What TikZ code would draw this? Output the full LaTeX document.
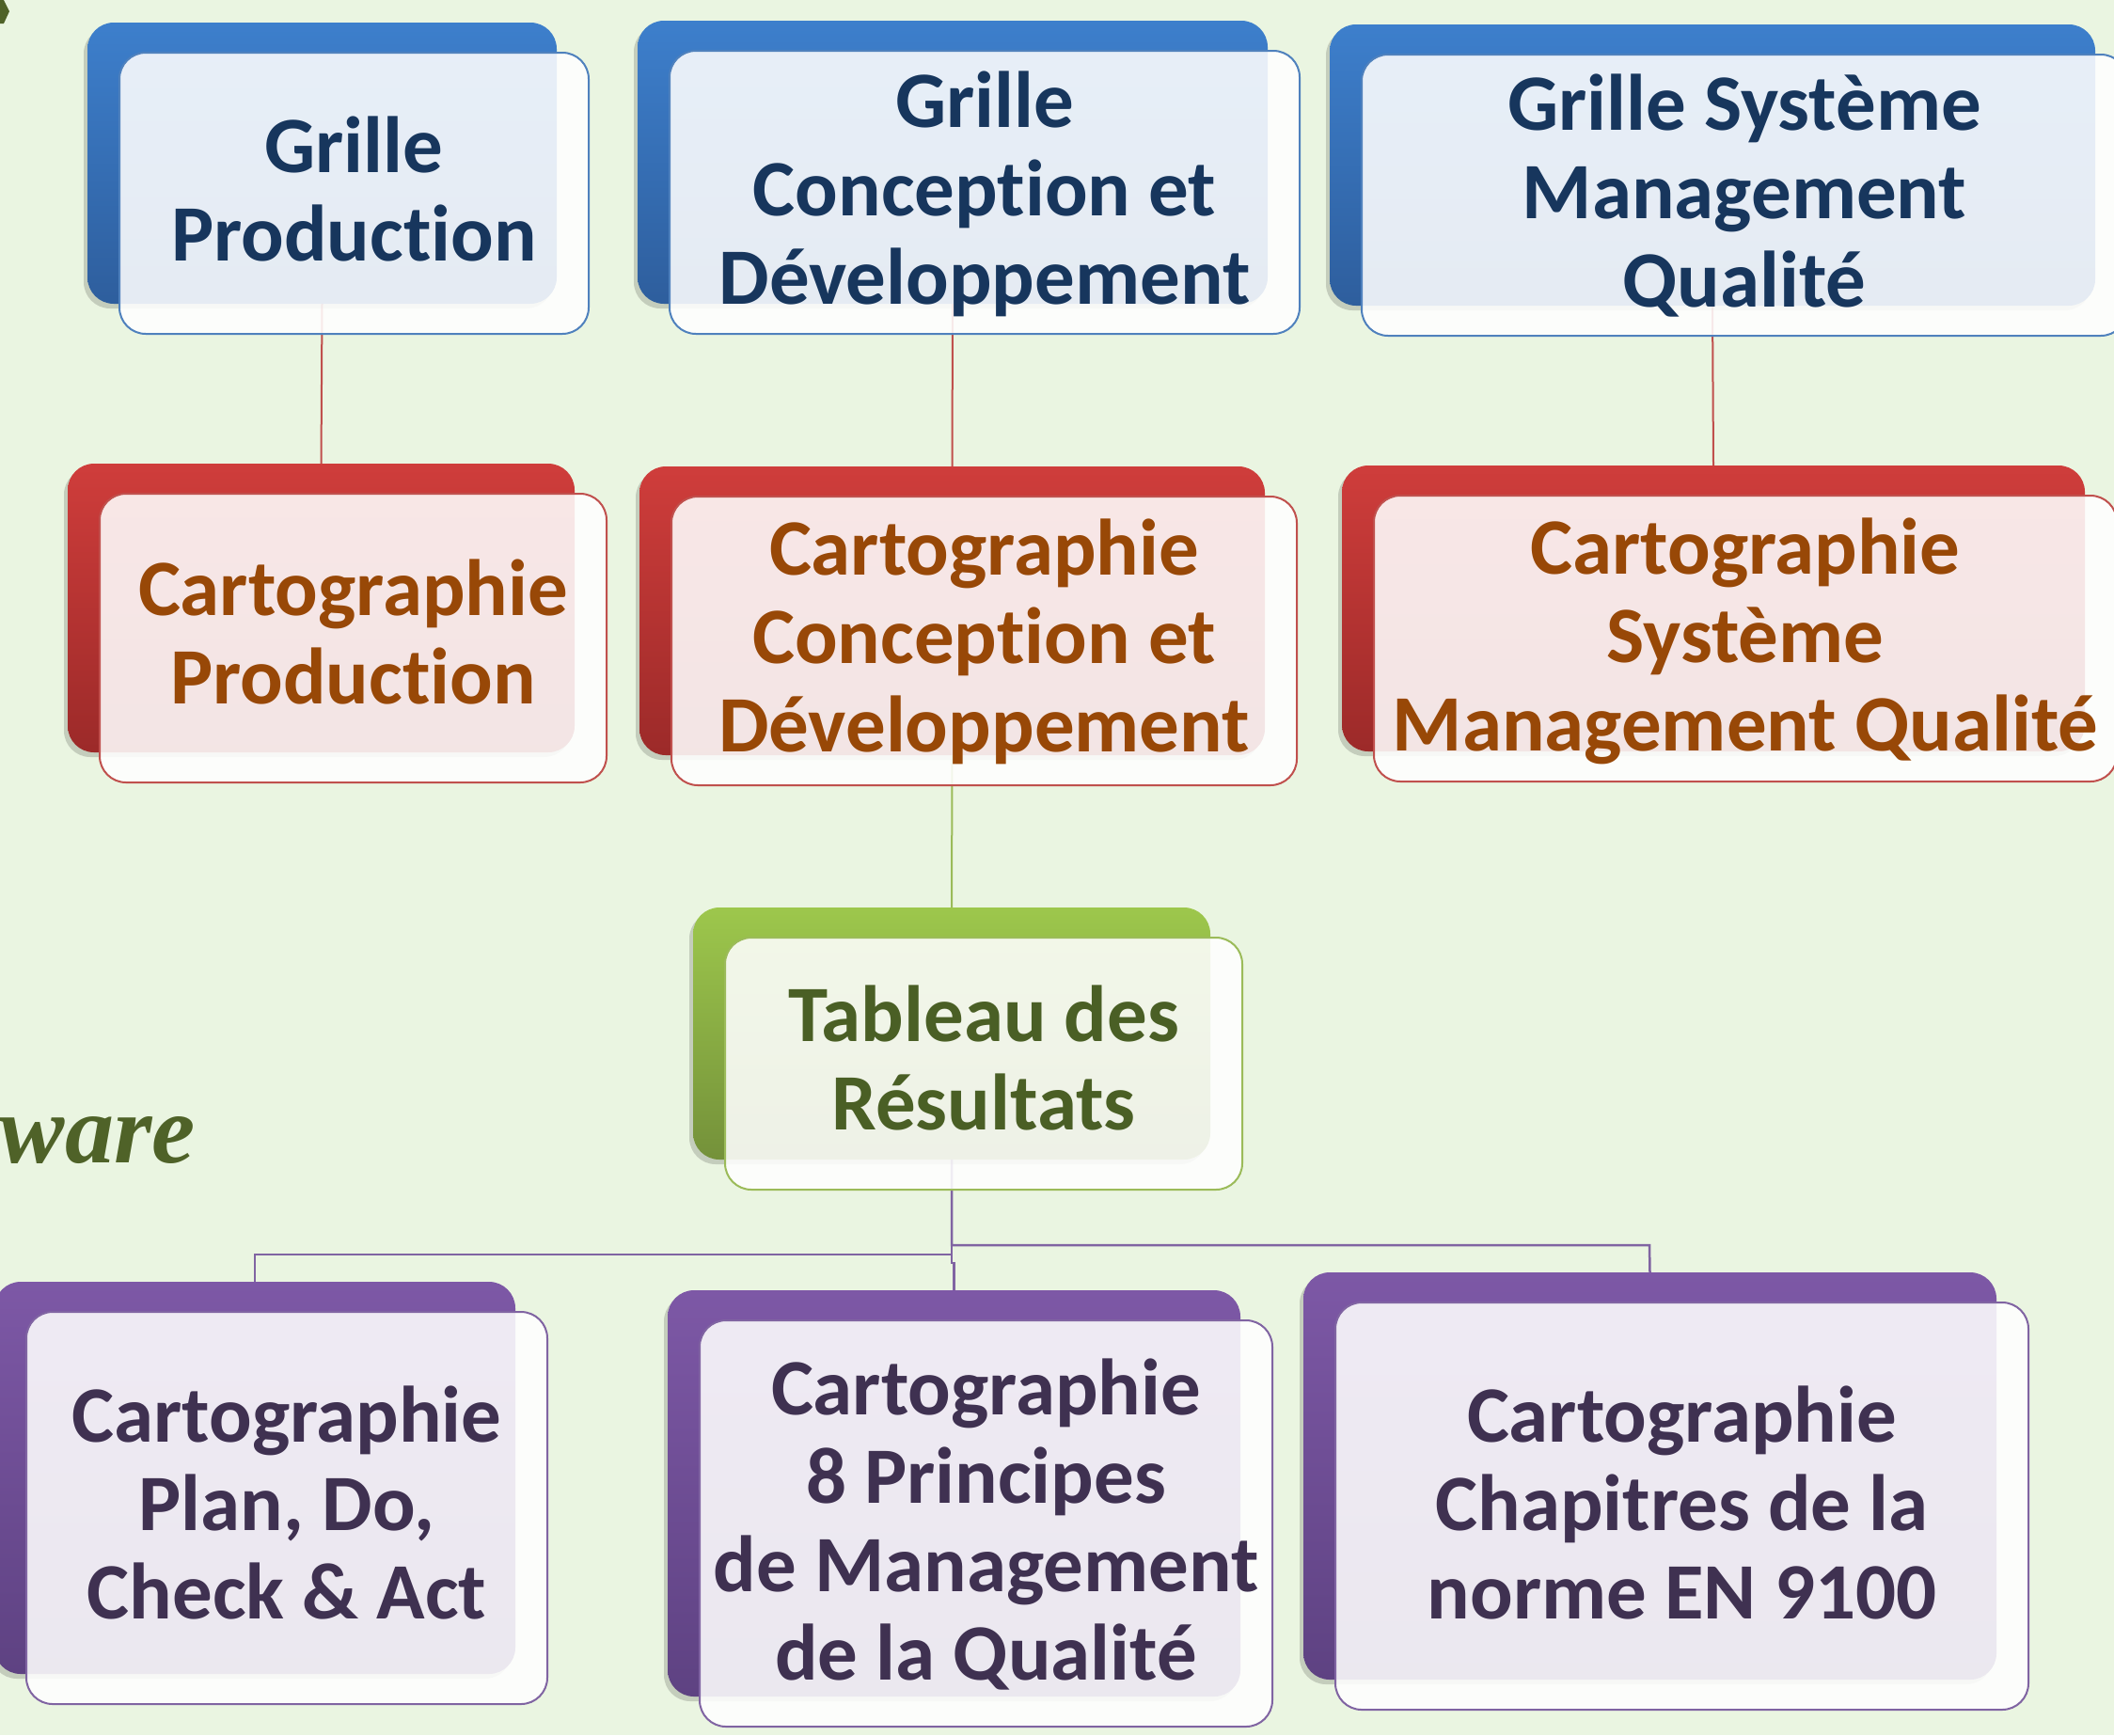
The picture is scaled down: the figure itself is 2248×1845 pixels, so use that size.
\documentclass[tikz,border=0pt]{standalone}
\usepackage{fontspec}
\setmainfont{Carlito}[Ligatures=CommonOff]
\newfontfamily\warefont{Liberation Serif}
\usetikzlibrary{calc}
\definecolor{bgcol}{HTML}{EAF5E1}
\definecolor{bluetop}{HTML}{3D7FCC}
\definecolor{bluebot}{HTML}{2E5E9D}
\definecolor{blueline}{HTML}{4F81BD}
\definecolor{bluetxt}{HTML}{17365D}
\definecolor{redtop}{HTML}{CF3D3B}
\definecolor{redbot}{HTML}{9C2A29}
\definecolor{redline}{HTML}{C0504D}
\definecolor{redtxt}{HTML}{984807}
\definecolor{greentop}{HTML}{9DC74C}
\definecolor{greenbot}{HTML}{74913A}
\definecolor{greenline}{HTML}{9BBB59}
\definecolor{greentxt}{HTML}{4A5F25}
\definecolor{purpletop}{HTML}{7D58A6}
\definecolor{purplebot}{HTML}{5E4282}
\definecolor{purpleline}{HTML}{8064A2}
\definecolor{purpletxt}{HTML}{3F3151}
\definecolor{olive}{HTML}{4F6228}
\pgfdeclarelayer{bg}
\pgfsetlayers{bg,main}
\tikzset{
  shadowbox/.style={rectangle, rounded corners=28pt, fill=black, opacity=0.16, inner sep=0, outer sep=0},
  backbox/.style={rectangle, rounded corners=28pt, inner sep=0, outer sep=0},
  frontbox/.style={rectangle, rounded corners=28pt, fill=white, fill opacity=0.88, line width=2pt, inner sep=0, outer sep=0},
  txt/.style={inner sep=0, align=center, font=\bfseries\fontsize{85}{94}\selectfont},
  conn/.style={line width=2pt},
}
\newcommand\lnstrut{\rule[-24pt]{0pt}{94pt}}
% #1 name, #2 x1, #3 y1, #4 x2, #5 y2, #6 colour prefix, #7 text centre y, #8 text
\newcommand\sabox[8]{%
  \pgfmathsetmacro\bw{#4-#2}\pgfmathsetmacro\bh{#5-#3}%
  \pgfmathsetmacro\cx{(#2+#4)/2}\pgfmathsetmacro\cy{(#3+#5)/2}%
  \node[shadowbox, minimum width=\bw pt, minimum height=\bh pt] (#1s) at (\cx-4,\cy+5) {};
  \node[backbox, top color=#6top, bottom color=#6bot, minimum width=\bw pt, minimum height=\bh pt] (#1b) at (\cx,\cy) {};
  \node[frontbox, draw=#6line, minimum width=\bw pt, minimum height=\bh pt] (#1f) at (\cx+34,\cy+32) {};
  \node[txt, text=#6txt] (#1t) at (\cx+34,#7) {#8};
}
\begin{document}
\begin{tikzpicture}[x=1pt,y=-1pt]
\useasboundingbox (0,0) rectangle (2248,1845);
\begin{pgfonlayer}{bg}
\fill[bgcol] (0,0) rectangle (2248,1845);
\end{pgfonlayer}
% chevron fragment at top left
\fill[olive] (0,0) -- (4,0) -- (10,12) -- (4,25) -- (0,25) -- cycle;
% partial word at left
\node[inner sep=0, anchor=base east, text=olive, font=\warefont\bfseries\itshape\fontsize{104}{110}\selectfont] (ware) at (208,1236) {ware};

% row 1
\sabox{A}{93}{24}{592}{323}{blue}{207}{\lnstrut Grille\\\lnstrut Production}
\sabox{B}{678}{22}{1348}{323}{blue}{206}{\lnstrut Grille\\\lnstrut Conception et\\\lnstrut Développement}
\sabox{C}{1414}{26}{2228}{325}{blue}{209}{\lnstrut Grille Système\\\lnstrut Management\\\lnstrut Qualité}
% row 2
\sabox{D}{72}{493}{611}{800}{red}{678}{\lnstrut Cartographie\\\lnstrut Production}
\sabox{E}{680}{496}{1345}{803}{red}{682}{\lnstrut Cartographie\\\lnstrut Conception et\\\lnstrut Développement}
\sabox{F}{1427}{495}{2217}{799}{red}{681}{\lnstrut Cartographie\\\lnstrut Système\\\lnstrut Management Qualité}
% row 3
\sabox{G}{737}{965}{1287}{1233}{green}{1131}{\lnstrut Tableau des\\\lnstrut Résultats}
% row 4
\sabox{H}{-6}{1363}{548}{1780}{purple}{1604}{\lnstrut Cartographie\\\lnstrut Plan, Do,\\\lnstrut Check \& Act}
\sabox{I}{710}{1372}{1319}{1804}{purple}{1622}{\lnstrut Cartographie\\\lnstrut 8 Principes\\\lnstrut de Management\\\lnstrut de la Qualité}
\sabox{J}{1386}{1353}{2123}{1786}{purple}{1604}{\lnstrut Cartographie\\\lnstrut Chapitres de la\\\lnstrut norme EN 9100}

\coordinate (hL) at (271,1334);
\coordinate (hR) at (1754,1324);
\coordinate (jg) at (1012,1343);
\begin{pgfonlayer}{bg}
\draw[conn, redline] (Ab.south) -- (Db.north);
\draw[conn, redline] (Bb.south) -- (Eb.north);
\draw[conn, redline] (Cb.south) -- (Fb.north);
\draw[conn, greenline] (Eb.south) -- (Gb.north);
\draw[conn, purpleline, line width=2.5pt] (Gb.south) |- (hL) -- (Hb.north);
\draw[conn, purpleline, line width=2.5pt] (Gb.south) |- (hR) -- (Jb.north);
\draw[conn, purpleline, line width=2.5pt] (Gb.south) -- (jg) -- (jg -| Ib.north) -- (Ib.north);
\end{pgfonlayer}
\end{tikzpicture}
\end{document}
